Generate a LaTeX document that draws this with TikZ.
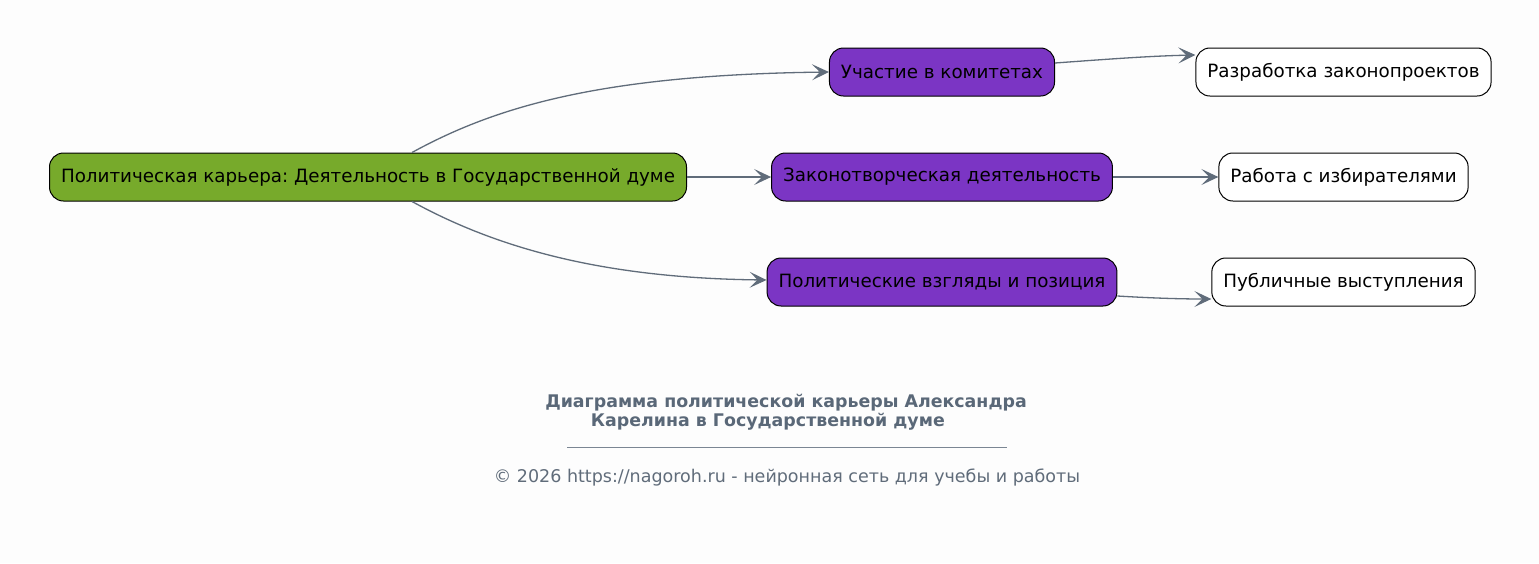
\documentclass[tikz,border=0pt]{standalone}
\usepackage{fontspec}
\setmainfont{DejaVu Sans}
\frenchspacing
\usetikzlibrary{arrows.meta}
\definecolor{rootC}{HTML}{77AA2B}
\definecolor{midC}{HTML}{7B35C4}
\definecolor{edgeC}{HTML}{606C7A}
\definecolor{titleC}{HTML}{5A6878}
\definecolor{bgC}{HTML}{FDFDFD}

\begin{document}
\begin{tikzpicture}
  [x=1pt,y=-1pt,
   baseN/.style={draw=black,line width=1pt,rounded corners=14pt,minimum height=48pt,inner xsep=11.5pt,
     font=\fontsize{18.3}{21}\selectfont,text=black},
   rootN/.style={baseN,fill=rootC},
   midN/.style={baseN,fill=midC},
   leafN/.style={baseN,fill=white},
   link/.style={draw=edgeC,line width=1.3pt,-{Stealth[length=17pt,width=16pt,inset=8pt]}}]

  \fill[bgC] (0,0) rectangle (1539,563);
  \useasboundingbox (0,0) rectangle (1539,563);

  \node[rootN] (root) at (368,177) {Политическая карьера: Деятельность в Государственной думе};

  \node[midN] (committees) at (942,72)  {Участие в комитетах};
  \node[midN] (lawmaking)  at (942,177) {Законотворческая деятельность};
  \node[midN] (views)      at (942,282) {Политические взгляды и позиция};

  \node[leafN] (bills)    at (1343.5,72)  {Разработка законопроектов};
  \node[leafN] (voters)   at (1343.5,177) {Работа с избирателями};
  \node[leafN] (speeches) at (1343.5,282) {Публичные выступления};

  \draw[link] ([xshift=44pt]root.north) .. controls (495,107) and (600,75) .. (committees.west);
  \draw[link] (root) -- (lawmaking);
  \draw[link] ([xshift=44pt]root.south) .. controls (495,247) and (600,278) .. ([yshift=2pt]views.west);

  \draw[link] ([yshift=9pt]committees.east) .. controls (1110,59) and (1150,56) .. ([yshift=17pt]bills.west);
  \draw[link] (lawmaking) -- (voters);
  \draw[link] ([yshift=-14pt]views.east) .. controls (1150,298) and (1180,299) .. ([yshift=-17pt]speeches.west);

  % caption
  \node[text=titleC,font=\fontsize{17.4}{19}\selectfont\bfseries,align=center] (title) at (786,412)
    {Диаграмма политической карьеры Александра\\Карелина в Государственной думе\phantom{mm}};
  \node[inner sep=0pt] (rule) at (787,447) {\color{titleC!80}\rule{440pt}{0.6pt}};
  \node[text=edgeC,font=\fontsize{17.5}{20}\selectfont] (copy) at (787,478)
    {© 2026 https://nagoroh.ru - нейронная сеть для учебы и работы};
\end{tikzpicture}
\end{document}
